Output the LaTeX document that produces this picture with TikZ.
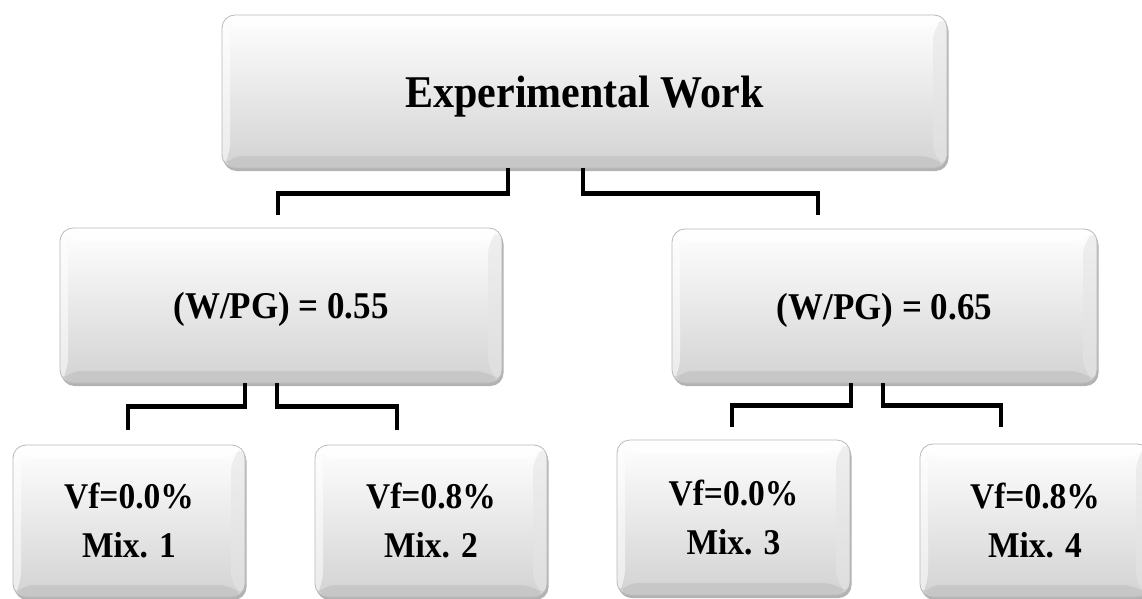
\documentclass[tikz,border=0pt]{standalone}
\usepackage{fontspec}
\setmainfont{Liberation Serif}[FakeStretch=0.925]
\usetikzlibrary{shadows}

\begin{document}
\begin{tikzpicture}[x=1pt,y=-1pt,
  box/.style={rounded corners=13pt, draw=gray!55, line width=0.8pt,
    top color=white, bottom color=gray!35, inner sep=0pt,
    drop shadow={shadow xshift=1.5pt,shadow yshift=-3pt,fill=black,opacity=.3},
    path picture={
      \path (path picture bounding box.north west) coordinate (pa)
            (path picture bounding box.north east) coordinate (pb)
            (path picture bounding box.south east) coordinate (pc)
            (path picture bounding box.south west) coordinate (pd)
            ([shift={(8pt,-13pt)}]pa) coordinate (qa)
            ([shift={(-14pt,-13pt)}]pb) coordinate (qb)
            ([shift={(-14pt,12pt)}]pc) coordinate (qc)
            ([shift={(8pt,12pt)}]pd) coordinate (qd);
      \fill[white,opacity=.85] (pa) -- (pb) -- (qb) -- (qa) -- cycle;
      \fill[white,opacity=.55] (pa) -- (qa) -- (qd) -- (pd) -- cycle;
      \fill[gray!20,opacity=.6] (pb) -- (pc) -- (qc) -- (qb) -- cycle;
      \fill[gray!50,opacity=.6] (pd) -- (qd) -- (qc) -- (pc) -- cycle;
    }},
  work/.style={box, font=\fontsize{45.4}{52}\selectfont\bfseries, text depth=0pt},
  ratio/.style={box, font=\fontsize{37.8}{44}\selectfont\bfseries, text depth=0pt},
  mix/.style={box, align=center, font=\fontsize{36.2}{49}\selectfont\bfseries,
    minimum width=232pt, minimum height=152pt},
  link/.style={line width=4.6pt, line join=miter}]
\useasboundingbox (0,0) rectangle (1142,599);

% boxes
\node[work, minimum width=725pt, minimum height=153pt] (ew) at (584.5,91.5) {Experimental Work};
\node[ratio, minimum width=442pt, minimum height=155pt] (wpg1) at (281,305.5) {(W/PG) = 0.55};
\node[ratio, minimum width=425pt, minimum height=154pt] (wpg2) at (884.5,306) {(W/PG) = 0.65};
\node[mix] (mix1) at (129,521) {Vf=0.0\%\\Mix. 1};
\node[mix] (mix2) at (431,521) {Vf=0.8\%\\Mix. 2};
\node[mix, minimum width=233pt, minimum height=155pt] (mix3) at (733.5,517.5) {Vf=0.0\%\\Mix. 3};
\node[mix, minimum width=230pt, minimum height=153pt] (mix4) at (1035,520.5) {Vf=0.8\%\\Mix. 4};

% free ends of the brackets
\coordinate (t1) at (278,215);
\coordinate (t2) at (818,215);
\coordinate (a1) at (128,430);
\coordinate (a2) at (397,430);
\coordinate (b1) at (732,427);
\coordinate (b2) at (1001,427);

% brackets
\draw[link] ([xshift=-76.5pt]ew.south) -- ++(0,25) -| (t1);
\draw[link] ([xshift=-1.5pt]ew.south) -- ++(0,25) -| (t2);
\draw[link] ([xshift=-36pt]wpg1.south) -- ++(0,23) -| (a1);
\draw[link] ([xshift=-4pt]wpg1.south) -- ++(0,23) -| (a2);
\draw[link] ([xshift=-33.5pt]wpg2.south) -- ++(0,22) -| (b1);
\draw[link] ([xshift=-1.5pt]wpg2.south) -- ++(0,22) -| (b2);
\end{tikzpicture}
\end{document}
